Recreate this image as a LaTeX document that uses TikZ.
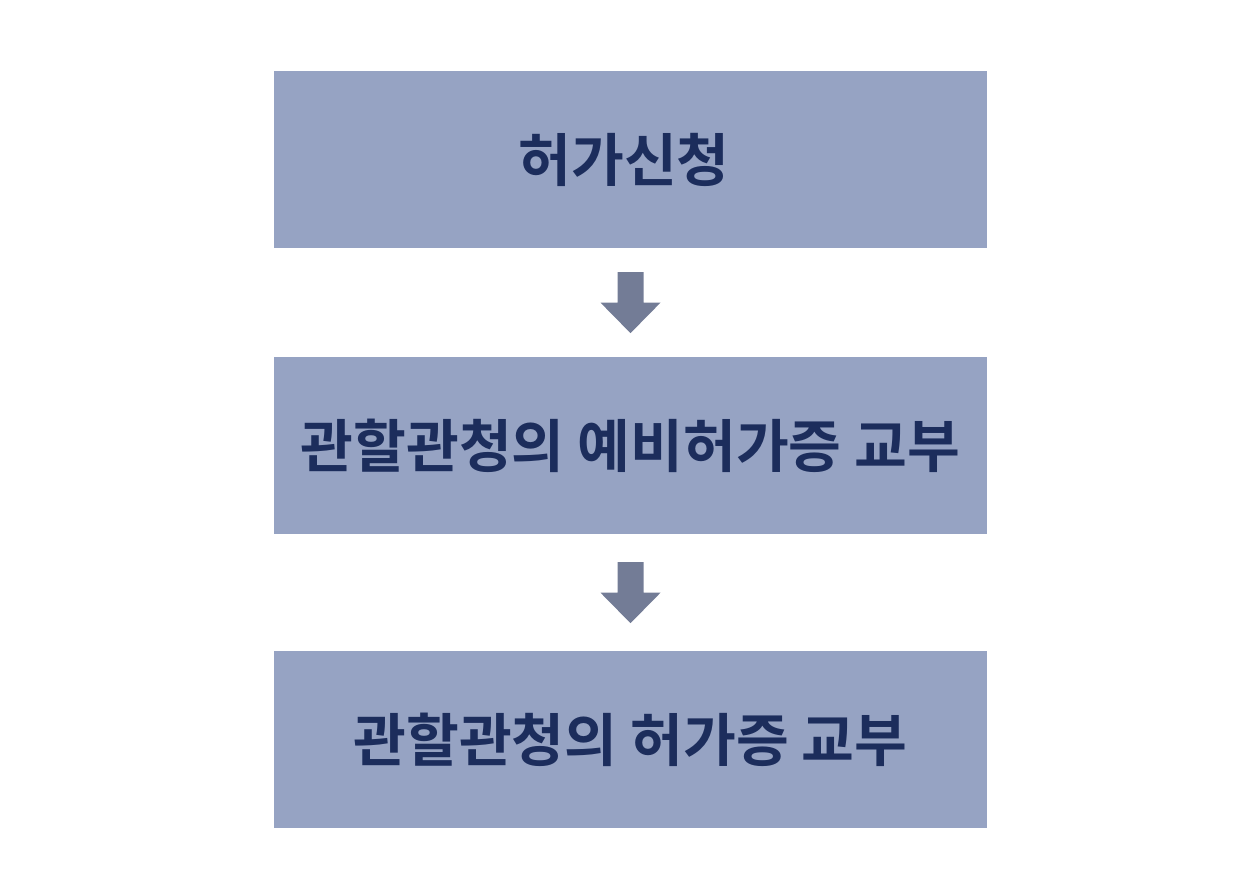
\documentclass[tikz,border=0pt]{standalone}
\usepackage{fontspec}
\newfontfamily\krfont{Noto Sans CJK KR}[BoldFont={Noto Sans CJK KR Bold}]
\usepackage{tikz}
\usetikzlibrary{positioning, calc}
\definecolor{boxblue}{HTML}{96A3C3}
\definecolor{textnavy}{HTML}{1C2D5C}
\definecolor{arrowgray}{HTML}{737C96}
\tikzstyle{process} = [rectangle, minimum width=356.5pt, minimum height=88.5pt, inner sep=0pt, text centered, fill=boxblue, text=textnavy, font=\krfont\bfseries\fontsize{28.7}{34}\selectfont]
\tikzstyle{blockarrow} = [fill=arrowgray]

\begin{document}
\begin{tikzpicture}[x=0.5pt, y=-0.5pt]
    \useasboundingbox (0,0) rectangle (1260,891);

    \node (apply) [process] at (630.5,159.5) {허가신청\rule{6.5pt}{0pt}};

    \node (prelicense) [process, below=54.25pt of apply] {관할관청의 예비허가증 교부};

    \node (license) [process, below=58pt of prelicense] {관할관청의 허가증 교부};

    % block arrows between the boxes
    \coordinate (arrow_one) at ($(apply.south)!0.5!(prelicense.north)$);
    \coordinate (arrow_two) at ($(prelicense.south)!0.5!(license.north)$);

    \fill[blockarrow] (arrow_one) ++(-13,-30.5) -- ++(26,0) -- ++(0,30.5) -- ++(17,0) -- ++(-30,30.5) -- ++(-30,-30.5) -- ++(17,0) -- cycle;
    \fill[blockarrow] (arrow_two) ++(-13,-30.5) -- ++(26,0) -- ++(0,30.5) -- ++(17,0) -- ++(-30,30.5) -- ++(-30,-30.5) -- ++(17,0) -- cycle;
\end{tikzpicture}
\end{document}
